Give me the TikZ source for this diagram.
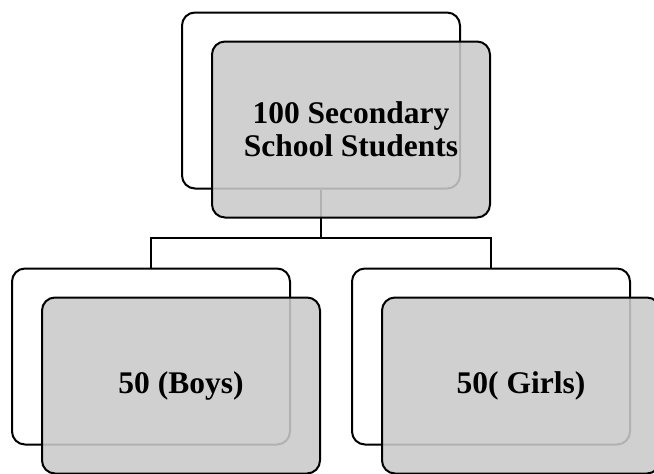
\documentclass[tikz,border=0pt]{standalone}
\usepackage{fontspec}
\setmainfont{Liberation Serif}

\begin{document}
\begin{tikzpicture}[x=1pt,y=-1pt,
  back/.style={draw,line width=2pt,rounded corners=13pt,
    minimum width=278pt,minimum height=176pt,inner sep=0pt},
  front/.style={back,fill={rgb,255:red,202;green,202;blue,202},
    fill opacity=0.88,text opacity=1,align=center,
    font=\fontsize{31.5}{33}\selectfont\bfseries}]
  \useasboundingbox (0,0) rectangle (654,474);

  \node[back] (TopBack) at (321,100.5) {};
  \node[back] (BoysBack) at (151,356.5) {};
  \node[back] (GirlsBack) at (491,356.5) {};

  \coordinate (Split) at (321,238);
  \draw[line width=2pt] (TopBack.south) -- (Split);
  \draw[line width=2pt] (Split) -| (BoysBack.north);
  \draw[line width=2pt] (Split) -| (GirlsBack.north);

  \node[front] (Top) at (351,129.5) {100 Secondary\\School Students};
  \node[front] (Boys) at (181,385.5) {50 (Boys)};
  \node[front] (Girls) at (521,385.5) {50( Girls)};
\end{tikzpicture}
\end{document}
